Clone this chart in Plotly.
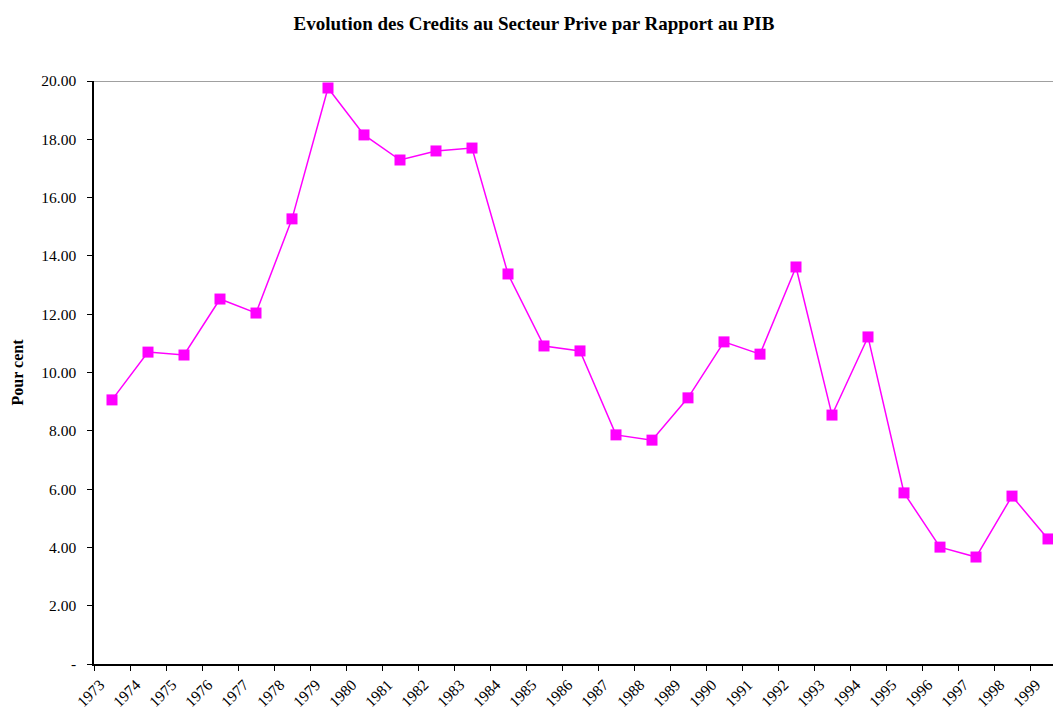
import plotly.graph_objects as go

years = [str(y) for y in range(1973, 2000)]
values = [9.06, 10.70, 10.60, 12.52, 12.04, 15.27, 19.76, 18.15, 17.29, 17.60,
          17.70, 13.38, 10.91, 10.74, 7.86, 7.68, 9.13, 11.05, 10.63, 13.62,
          8.54, 11.22, 5.87, 4.01, 3.67, 5.76, 4.29]
y_ticks = [0, 2, 4, 6, 8, 10, 12, 14, 16, 18, 20]
y_ticktext = ["-"] + [f"{v:.2f}" for v in y_ticks[1:]]

font = "Liberation Serif, Times New Roman, serif"

fig = go.Figure()
fig.add_trace(go.Scatter(
    x=years, y=values, mode="lines+markers",
    line=dict(color="#FF00FF", width=1.5),
    marker=dict(symbol="square", size=11, color="#FF00FF"),
    showlegend=False, cliponaxis=False,
))

fig.update_layout(
    width=1053, height=713,
    margin=dict(l=94, r=0, t=81, b=49, autoexpand=False),
    paper_bgcolor="white", plot_bgcolor="white",
    font=dict(family=font, size=16, color="black"),
    title=dict(text="<b>Evolution des Credits au Secteur Prive par Rapport au PIB</b>",
               x=534 / 1053, xanchor="center", xref="container",
               y=1 - 23 / 713, yanchor="middle", yref="container",
               font=dict(family=font, size=19, color="black")),
)

fig.update_xaxes(
    type="category", categoryorder="array", categoryarray=years,
    range=[-0.5, -0.5 + 959 / 36], automargin=False,
    tickson="boundaries", ticks="outside", ticklen=5, tickcolor="black",
    showline=True, linecolor="black", linewidth=1.5,
    tickangle=-45, showgrid=False, zeroline=False,
    ticklabelshift=-12, ticklabelstandoff=4,
    tickfont=dict(family=font, size=15.5),
)
fig.update_yaxes(
    range=[0, 20], tickvals=y_ticks, ticktext=y_ticktext, automargin=False,
    ticks="outside", ticklen=5, tickcolor="black",
    showline=True, linecolor="black", linewidth=1.5,
    showgrid=False, zeroline=False, ticklabelstandoff=8,
    tickfont=dict(family=font, size=15.5),
    title=dict(text="<b>Pour cent</b>", standoff=14,
               font=dict(family=font, size=16)),
)

fig.add_shape(type="line", xref="paper", yref="y", x0=0, x1=1, y0=20, y1=20,
              line=dict(color="#808080", width=1.5))

fig.write_html("out.html", config={"displayModeBar": False},
               post_script="document.body.style.margin='0';document.body.style.overflow='hidden';")
